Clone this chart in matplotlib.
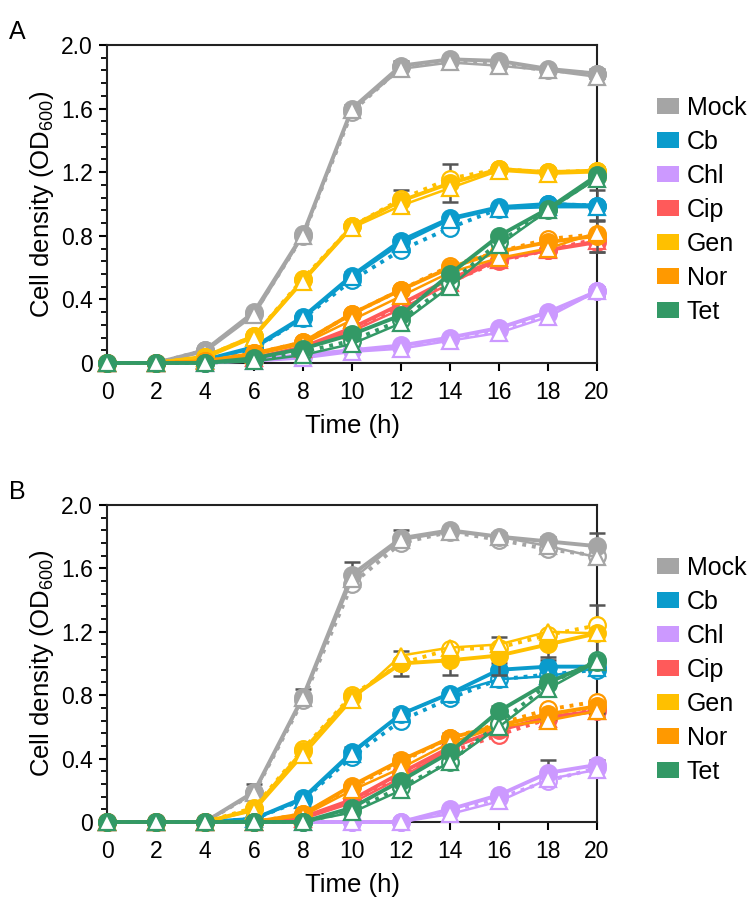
import matplotlib
matplotlib.use("Agg")
import matplotlib.pyplot as plt
from matplotlib.patches import Patch

plt.rcParams['font.family'] = ['Liberation Sans', 'DejaVu Sans']

time_h = [0, 2, 4, 6, 8, 10, 12, 14, 16, 18, 20]
treatments = ["Mock", "Cb", "Chl", "Cip", "Gen", "Nor", "Tet"]
colors = {"Mock": "#A5A5A5", "Cb": "#0A9BCC", "Chl": "#CC99FF", "Cip": "#FF5A5A",
          "Gen": "#FFC000", "Nor": "#FF9900", "Tet": "#339966"}

# Panel A: filled circle (solid), open circle (dotted), open triangle (solid)
A_filled = {
    "Mock": [0, 0, 0.08, 0.32, 0.81, 1.60, 1.87, 1.91, 1.90, 1.85, 1.82],
    "Cb":   [0, 0, 0.02, 0.10, 0.29, 0.55, 0.77, 0.91, 0.98, 1.00, 0.99],
    "Chl":  [0, 0, 0.00, 0.02, 0.05, 0.08, 0.11, 0.16, 0.22, 0.32, 0.45],
    "Cip":  [0, 0, 0.01, 0.03, 0.10, 0.22, 0.37, 0.53, 0.65, 0.71, 0.76],
    "Gen":  [0, 0, 0.04, 0.17, 0.52, 0.86, 1.02, 1.13, 1.22, 1.20, 1.21],
    "Nor":  [0, 0, 0.01, 0.06, 0.13, 0.31, 0.46, 0.60, 0.70, 0.76, 0.80],
    "Tet":  [0, 0, 0.00, 0.03, 0.09, 0.18, 0.30, 0.56, 0.80, 0.97, 1.18],
}
A_open = {
    "Mock": [0, 0, 0.08, 0.31, 0.80, 1.58, 1.86, 1.90, 1.88, 1.84, 1.82],
    "Cb":   [0, 0, 0.02, 0.09, 0.28, 0.52, 0.71, 0.85, 0.97, 1.00, 0.99],
    "Chl":  [0, 0, 0.00, 0.02, 0.04, 0.08, 0.10, 0.15, 0.21, 0.31, 0.45],
    "Cip":  [0, 0, 0.01, 0.03, 0.09, 0.21, 0.35, 0.51, 0.64, 0.71, 0.78],
    "Gen":  [0, 0, 0.04, 0.17, 0.53, 0.86, 1.03, 1.16, 1.22, 1.20, 1.21],
    "Nor":  [0, 0, 0.01, 0.06, 0.13, 0.31, 0.46, 0.61, 0.70, 0.78, 0.81],
    "Tet":  [0, 0, 0.00, 0.02, 0.07, 0.14, 0.27, 0.50, 0.76, 0.96, 1.17],
}
A_tri = {
    "Mock": [0, 0, 0.07, 0.30, 0.80, 1.59, 1.85, 1.89, 1.87, 1.84, 1.80],
    "Cb":   [0, 0, 0.02, 0.09, 0.28, 0.54, 0.75, 0.90, 0.97, 0.98, 0.98],
    "Chl":  [0, 0, 0.00, 0.01, 0.03, 0.07, 0.09, 0.14, 0.19, 0.29, 0.45],
    "Cip":  [0, 0, 0.01, 0.03, 0.09, 0.20, 0.34, 0.50, 0.65, 0.71, 0.77],
    "Gen":  [0, 0, 0.03, 0.16, 0.51, 0.85, 0.99, 1.10, 1.21, 1.19, 1.20],
    "Nor":  [0, 0, 0.01, 0.05, 0.12, 0.27, 0.42, 0.57, 0.66, 0.72, 0.82],
    "Tet":  [0, 0, 0.00, 0.01, 0.05, 0.12, 0.25, 0.48, 0.74, 0.96, 1.16],
}
A_err = {
    "Mock": [0, 0, 0, 0.01, 0.02, 0.02, 0.03, 0.02, 0.02, 0.02, 0.03],
    "Cb":   [0, 0, 0, 0, 0, 0.02, 0.02, 0.02, 0.02, 0.02, 0.10],
    "Chl":  [0, 0, 0, 0, 0, 0, 0, 0, 0, 0.02, 0.03],
    "Cip":  [0, 0, 0, 0, 0, 0, 0, 0, 0, 0.02, 0.06],
    "Gen":  [0, 0, 0, 0, 0, 0, 0.07, 0.12, 0.02, 0.02, 0.02],
    "Nor":  [0, 0, 0, 0, 0, 0, 0, 0, 0, 0.02, 0.10],
    "Tet":  [0, 0, 0, 0, 0, 0, 0, 0, 0, 0.02, 0.02],
}

# Panel B
B_filled = {
    "Mock": [0, 0, 0, 0.19, 0.79, 1.56, 1.79, 1.84, 1.80, 1.77, 1.74],
    "Cb":   [0, 0, 0, 0.02, 0.15, 0.44, 0.68, 0.81, 0.96, 0.98, 0.98],
    "Chl":  [0, 0, 0, 0.00, 0.00, 0.00, 0.00, 0.08, 0.17, 0.31, 0.36],
    "Cip":  [0, 0, 0, 0.00, 0.03, 0.14, 0.31, 0.47, 0.58, 0.66, 0.70],
    "Gen":  [0, 0, 0, 0.08, 0.45, 0.79, 1.00, 1.02, 1.05, 1.12, 1.19],
    "Nor":  [0, 0, 0, 0.00, 0.05, 0.23, 0.39, 0.53, 0.61, 0.68, 0.73],
    "Tet":  [0, 0, 0, 0.00, 0.00, 0.09, 0.26, 0.44, 0.70, 0.88, 1.01],
}
B_open = {
    "Mock": [0, 0, 0, 0.18, 0.77, 1.50, 1.76, 1.83, 1.78, 1.72, 1.68],
    "Cb":   [0, 0, 0, 0.02, 0.14, 0.41, 0.64, 0.78, 0.90, 0.93, 0.96],
    "Chl":  [0, 0, 0, 0.00, 0.00, 0.00, 0.00, 0.07, 0.15, 0.26, 0.34],
    "Cip":  [0, 0, 0, 0.00, 0.03, 0.13, 0.29, 0.44, 0.55, 0.65, 0.72],
    "Gen":  [0, 0, 0, 0.09, 0.46, 0.80, 1.00, 1.09, 1.10, 1.18, 1.24],
    "Nor":  [0, 0, 0, 0.00, 0.05, 0.22, 0.38, 0.53, 0.62, 0.71, 0.76],
    "Tet":  [0, 0, 0, 0.00, 0.00, 0.07, 0.22, 0.38, 0.62, 0.87, 1.02],
}
B_tri = {
    "Mock": [0, 0, 0, 0.18, 0.78, 1.53, 1.78, 1.83, 1.80, 1.74, 1.67],
    "Cb":   [0, 0, 0, 0.02, 0.14, 0.43, 0.68, 0.81, 0.90, 0.92, 0.97],
    "Chl":  [0, 0, 0, 0.00, 0.00, 0.00, 0.00, 0.05, 0.13, 0.27, 0.33],
    "Cip":  [0, 0, 0, 0.00, 0.02, 0.12, 0.28, 0.46, 0.59, 0.65, 0.70],
    "Gen":  [0, 0, 0, 0.07, 0.42, 0.77, 1.05, 1.10, 1.12, 1.20, 1.19],
    "Nor":  [0, 0, 0, 0.00, 0.04, 0.20, 0.34, 0.50, 0.60, 0.64, 0.70],
    "Tet":  [0, 0, 0, 0.00, 0.00, 0.06, 0.20, 0.38, 0.60, 0.84, 1.01],
}
B_err = {
    "Mock": [0, 0, 0, 0.05, 0.05, 0.08, 0.05, 0.02, 0.02, 0.03, 0.08],
    "Cb":   [0, 0, 0, 0, 0, 0.03, 0.03, 0.02, 0.04, 0.04, 0.04],
    "Chl":  [0, 0, 0, 0, 0, 0, 0, 0.02, 0.02, 0.08, 0.03],
    "Cip":  [0, 0, 0, 0, 0, 0, 0, 0, 0, 0.02, 0.04],
    "Gen":  [0, 0, 0, 0, 0, 0, 0.08, 0.09, 0.12, 0.08, 0.18],
    "Nor":  [0, 0, 0, 0, 0, 0, 0.03, 0.03, 0.03, 0.03, 0.04],
    "Tet":  [0, 0, 0, 0, 0, 0, 0, 0.02, 0.03, 0.03, 0.03],
}

fig = plt.figure(figsize=(7.52, 9.02), dpi=100)
axA = fig.add_axes([0.1423, 0.5976, 0.6516, 0.3525])
axB = fig.add_axes([0.1423, 0.0887, 0.6516, 0.3515])

TICK_FS = 16.5
LAB_FS = 18.5
LEG_FS = 18


def draw(ax, filled, opened, tri, err):
    for i, t in enumerate(treatments):
        c = colors[t]
        base = 10 + i
        ax.errorbar(time_h, filled[t], yerr=err[t], fmt='none', ecolor='#555555',
                    elinewidth=1.8, capsize=6, capthick=1.8, zorder=base - 0.5, clip_on=False)
        ax.plot(time_h, opened[t], linestyle=(0, (1, 1.5)), lw=2.8, color=c,
                marker='o', ms=12, mfc='white', mec=c, mew=1.6, zorder=base, clip_on=False)
        ax.plot(time_h, filled[t], linestyle='-', lw=2.8, color=c,
                marker='o', ms=12, mfc=c, mec=c, mew=1.6, zorder=base + 0.1, clip_on=False)
        ax.plot(time_h, tri[t], linestyle='-', lw=1.8, color=c,
                marker='^', ms=12, mfc='white', mec=c, mew=1.6, zorder=base + 0.2, clip_on=False)

    ax.set_xlim(0, 20)
    ax.set_ylim(0, 2.0)
    ax.set_xticks(range(0, 21, 2))
    ax.set_yticks([0, 0.4, 0.8, 1.2, 1.6, 2.0])
    ax.set_yticklabels(["0", "0.4", "0.8", "1.2", "1.6", "2.0"])
    ax.set_yticks([i * 0.08 for i in range(26)], minor=True)
    ax.tick_params(axis='both', which='major', labelsize=TICK_FS, length=6, width=1.5,
                   direction='out', pad=4)
    ax.tick_params(axis='x', which='major', pad=7)
    ax.tick_params(axis='y', which='minor', length=4, width=1.3, direction='out')
    for s in ax.spines.values():
        s.set_linewidth(1.5)
        s.set_color('#222222')
    ax.set_xlabel("Time (h)", fontsize=LAB_FS, labelpad=7)
    ax.set_ylabel(r"Cell density (OD$_{\mathregular{600}}$)", fontsize=LAB_FS, labelpad=4)
    handles = [Patch(facecolor=colors[t], edgecolor='none', label=t) for t in treatments]
    ax.legend(handles=handles, loc='upper left', bbox_to_anchor=(1.122, 0.84), frameon=False,
              fontsize=LEG_FS, handlelength=0.9, handleheight=0.65, handletextpad=0.3,
              labelspacing=0.4, borderaxespad=0, borderpad=0)


draw(axA, A_filled, A_open, A_tri, A_err)
draw(axB, B_filled, B_open, B_tri, B_err)

fig.text(0.012, 0.957, "A", fontsize=18)
fig.text(0.012, 0.447, "B", fontsize=18)

fig.savefig("out.png", dpi=100)
